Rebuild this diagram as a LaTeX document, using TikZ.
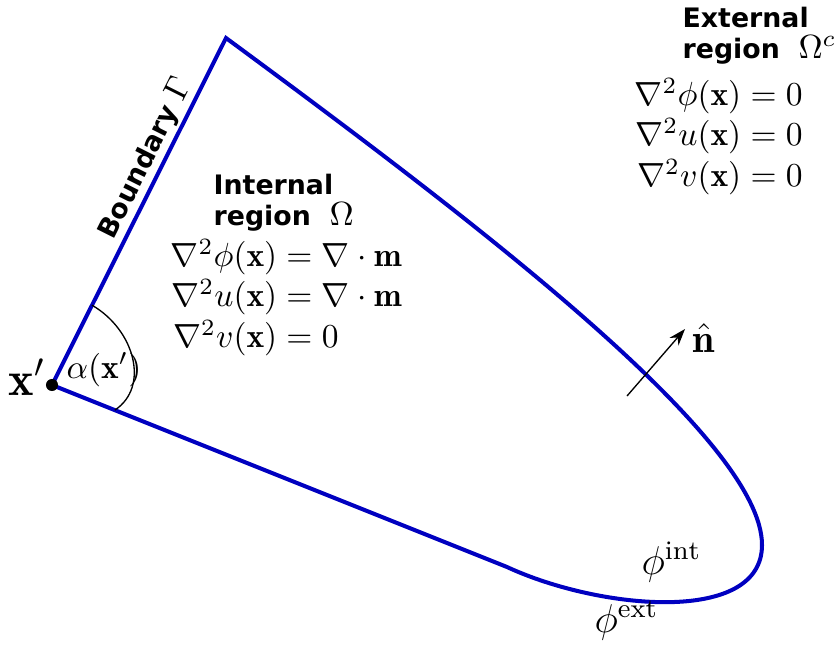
\documentclass[tikz,border=0pt]{standalone}
\usepackage{amsmath}
\usepackage{fontspec}
\usepackage{tikz}
\usetikzlibrary{arrows.meta,calc}
\newfontfamily\dvsans{DejaVu Sans}
\definecolor{bdBlue}{HTML}{0000C0}

\begin{document}
\begin{tikzpicture}[x=0.0105cm,y=-0.0105cm,
  bd/.style={draw=bdBlue,line width=1.2pt},
  hd/.style={font=\dvsans\bfseries\footnotesize,align=left,inner sep=0pt,anchor=north west},
  eq/.style={inner sep=0pt,anchor=north west},
  lb/.style={inner sep=0pt,anchor=base west,font=\large}]
\useasboundingbox (0,0) rectangle (837,644);
\coordinate (xp)  at (52,385);
\coordinate (top) at (226,38);
\coordinate (rt)  at (762,545);
\coordinate (bot) at (507,567);
\draw[bd] (bot) -- (xp) -- (top) .. controls (480,225) and (762,440) .. (rt)
  .. controls (762,625) and (600,610) .. (bot);
\fill (xp) circle (1.8pt);
\coordinate (a1) at ($(xp)!0.23!(top)$);
\coordinate (a2) at ($(xp)!0.138!(bot)$);
\draw[thin] (a1) .. controls +(43,25) and +(35,-23) .. (a2);
\node[anchor=base east,inner sep=0pt,font=\Large] (xl) at (46,395) {$\mathbf{x'}$};
\node[anchor=base west,inner sep=0pt] (al) at (66,378) {$\alpha(\mathbf{x}')$};
\path (xp) -- (top) node[pos=0.63,sloped,anchor=south,inner sep=1pt,
  font=\dvsans\bfseries\footnotesize] (bl) {Boundary {\normalsize$\Gamma$}};

\node[hd] (ih) at (213,173) {Internal\\region~~{\normalsize$\Omega$}};
\node[eq] (ie) at (170,238) {$\begin{array}{@{}r@{}l@{}}
  \nabla^2\phi(\mathbf{x}) & {}= \nabla\cdot\mathbf{m}\\
  \nabla^2u(\mathbf{x}) & {}= \nabla\cdot\mathbf{m}\\
  \nabla^2v(\mathbf{x}) & {}= 0
\end{array}$};
\node[hd] (eh) at (682,6) {External\\region~~{\normalsize$\Omega^c$}};
\node[eq] (ee) at (634,77) {$\begin{array}{@{}r@{}l@{}}
  \nabla^2\phi(\mathbf{x}) & {}= 0\\
  \nabla^2u(\mathbf{x}) & {}= 0\\
  \nabla^2v(\mathbf{x}) & {}= 0
\end{array}$};

\coordinate (nt) at (627,396);
\coordinate (nh) at (685,329);
\draw[thin,-{Stealth[length=5pt,width=3.5pt]}] (nt) -- (nh);
\node[lb] (nl) at (692,352) {$\hat{\mathbf{n}}$};
\node[lb] (pi) at (641,574) {$\phi^{\mathrm{int}}$};
\node[lb] (pe) at (594,632) {$\phi^{\mathrm{ext}}$};
\end{tikzpicture}
\end{document}
